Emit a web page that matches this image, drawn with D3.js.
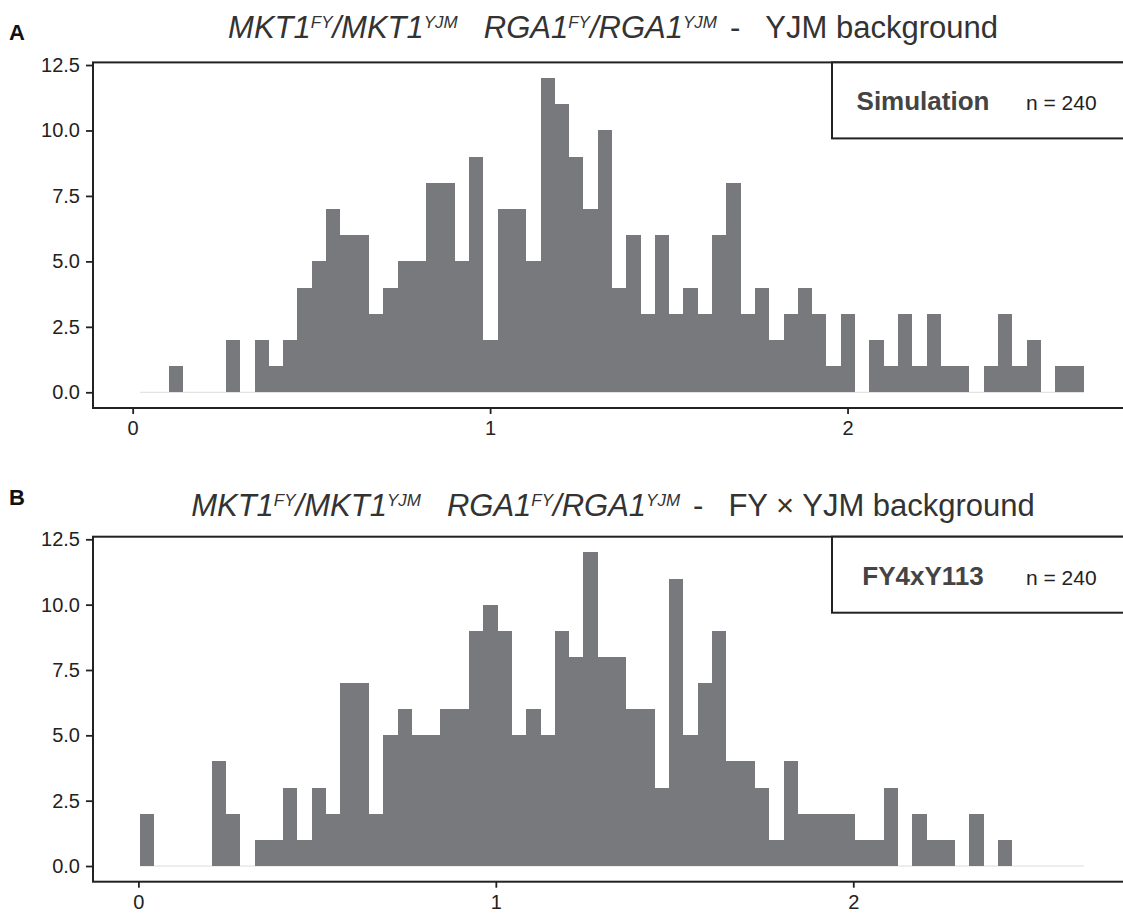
<!DOCTYPE html>
<html>
  <head>
    <meta charset="utf-8">
    <title>MKT1 / RGA1 histograms</title>
    <style>
      body { margin: 0; background: #fff; }
      svg text { font-family: 'Liberation Sans', Arial, Helvetica, sans-serif; }
      .tick text { font-size: 20px; fill: #222; }
      .tick line { stroke: #222; stroke-width: 1.8; }
    </style>
  </head>
  <body>
    <svg id="chart" width="1123" height="913"></svg>
    <script src="https://cdnjs.cloudflare.com/ajax/libs/d3/7.8.5/d3.min.js"></script>
    <script>
    // histogram bins (same width in both panels)
    const binWidth = 0.04;

    // A - simulation
    const simStart = 0.021;
    const simCounts = [0,0,1,0,0,0,2,0,2,1,2,4,5,7,6,6,3,4,5,5,8,
                       8,5,9,2,7,7,5,12,11,9,7,10,4,6,3,6,3,4,3,6,8,3,4,
                       2,3,4,3,1,3,0,2,1,3,1,3,1,1,0,1,3,1,2,0,1,1];

    // B - FY4xY113 cross
    const crossStart = 0.005;
    const crossCounts = [2,0,0,0,0,4,2,0,1,1,3,1,3,2,7,7,2,5,6,5,
                         5,6,6,9,10,9,5,6,5,9,8,12,8,8,6,6,3,11,5,7,9,4,4,3,
                         1,4,2,2,2,2,1,1,3,0,2,1,1,0,2,0,1,0,0,0,0,0];

    const panelLabels = ['A', 'B'];
    const backgrounds = ['YJM background', 'FY \u00d7 YJM background'];
    const strains = ['Simulation', 'FY4xY113'];
    const sampleSizes = [240, 240];

    const yTicks = [0, 2.5, 5, 7.5, 10, 12.5];
    const xTicks = [0, 1, 2];

    // layout
    const left = 93, right = 1131;
    const panelTop = [62.4, 536.7];
    const panelBottom = [408, 881.7];
    const titleY = [37.5, 515.7];
    const labelY = [40, 505];
    const barColor = '#78797d';
    const lineColor = '#222';

    const svg = d3.select('#chart');

    function drawTitle(g, cx, y, background) {
      let t = g.append('text').attr('x', cx).attr('y', y)
        .attr('text-anchor', 'middle')
        .style('font-size', '31px').style('fill', '#333');
      // [text, superscript?, dx]
      let parts = [['MKT1', 0, 0], ['FY', 1, 0], ['/MKT1', 0, 0], ['YJM', 1, 0],
                   ['RGA1', 0, 26], ['FY', 1, 0], ['/RGA1', 0, 0], ['YJM', 1, 0]];
      let raised = false;
      parts.forEach(p => {
        let s = t.append('tspan').text(p[0]).style('font-style', 'italic').attr('dx', p[2]);
        if (p[1]) {
          s.style('font-size', '17px').attr('dy', raised ? 0 : -10);
          raised = true;
        } else {
          s.attr('dy', raised ? 10 : 0);
          raised = false;
        }
      });
      t.append('tspan').text('-').attr('dx', 13).attr('dy', raised ? 10 : 0);
      t.append('tspan').text(background).attr('dx', 25);
    }

    function drawPanel(i, start, counts) {
      let g = svg.append('g');
      let nBins = counts.length;
      let lo = start, hi = start + nBins * binWidth;
      let pad = (hi - lo) * 0.05;
      let yMax = d3.max(counts);

      let x = d3.scaleLinear().domain([lo - pad, hi + pad]).range([left, right]);
      let y = d3.scaleLinear().domain([-yMax * 0.05, yMax * 1.05]).range([panelBottom[i], panelTop[i]]);

      let bins = counts.map((c, k) => ({x0: start + k * binWidth, x1: start + (k + 1) * binWidth, count: c}));

      // faint line where bins are empty
      g.append('line')
        .attr('x1', x(lo)).attr('x2', x(hi))
        .attr('y1', y(0)).attr('y2', y(0))
        .style('stroke', '#dcdcdc').style('stroke-width', 1);

      g.append('g').selectAll('rect')
        .data(bins.filter(b => b.count > 0))
        .join('rect')
        .attr('x', b => x(b.x0))
        .attr('width', b => x(b.x1) - x(b.x0))
        .attr('y', b => y(b.count))
        .attr('height', b => y(0) - y(b.count))
        .attr('shape-rendering', 'crispEdges')
        .style('fill', barColor);

      // axes
      let yAxis = g.append('g').attr('transform', 'translate(' + left + ',0)')
        .call(d3.axisLeft(y).tickValues(yTicks).tickFormat(d3.format('.1f')).tickSize(7).tickPadding(6));
      yAxis.select('.domain').remove();

      let xAxis = g.append('g').attr('transform', 'translate(0,' + panelBottom[i] + ')')
        .call(d3.axisBottom(x).tickValues(xTicks).tickFormat(d3.format('d')).tickSize(6).tickPadding(7));
      xAxis.select('.domain').remove();

      // panel border
      g.append('rect')
        .attr('x', left).attr('y', panelTop[i])
        .attr('width', right - left).attr('height', panelBottom[i] - panelTop[i])
        .style('fill', 'none').style('stroke', lineColor).style('stroke-width', 2);

      // strain box
      let bx = 832, bh = 76;
      g.append('rect')
        .attr('x', bx).attr('y', panelTop[i])
        .attr('width', 400).attr('height', bh)
        .style('fill', '#fff').style('stroke', lineColor).style('stroke-width', 2);
      g.append('text')
        .attr('x', 923).attr('y', panelTop[i] + 48)
        .attr('text-anchor', 'middle')
        .style('font-size', '26px').style('font-weight', 'bold').style('fill', '#444')
        .text(strains[i]);
      g.append('text')
        .attr('x', 1026).attr('y', panelTop[i] + 48)
        .style('font-size', '21px').style('fill', '#222')
        .text('n = ' + sampleSizes[i]);

      drawTitle(g, 613, titleY[i], backgrounds[i]);

      g.append('text')
        .attr('x', 9).attr('y', labelY[i])
        .style('font-size', '22px').style('font-weight', 'bold').style('fill', '#111')
        .text(panelLabels[i]);
    }

    drawPanel(0, simStart, simCounts);
    drawPanel(1, crossStart, crossCounts);
    </script>
  </body>
</html>
